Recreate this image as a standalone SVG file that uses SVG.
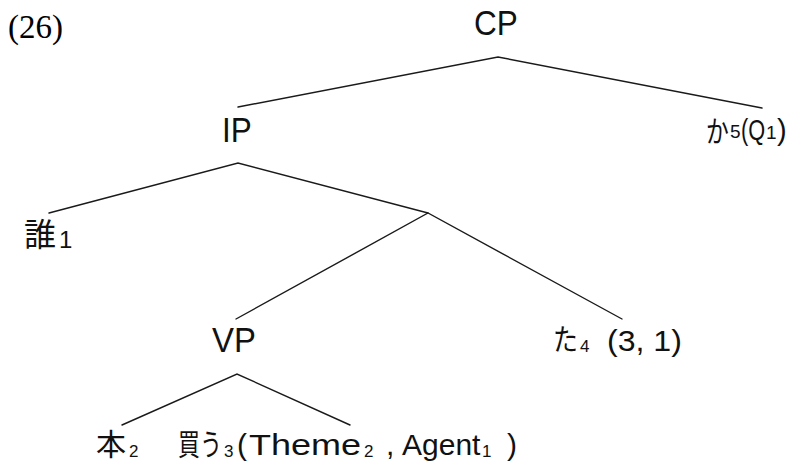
<svg xmlns="http://www.w3.org/2000/svg" width="809" height="464" viewBox="0 0 809 464">
  <style>
    .lat { font-family: "Liberation Sans", Arial, sans-serif; fill: #111; }
    .cjk { font-family: "Noto Sans CJK JP", "Noto Sans CJK SC", sans-serif; fill: #111; }
    .ser { font-family: "Liberation Serif", "Times New Roman", serif; fill: #000; }
    .lab { font-size: 35px; }
    .sub { font-size: 17px; }
    .edge { stroke: #1a1a1a; stroke-width: 1.4; fill: none; stroke-linecap: round; }
  </style>
  <rect width="809" height="464" fill="#fff"/>

  <text class="ser" x="8" y="38" font-size="33">(26)</text>

  <g id="connectors">
    <polyline class="edge" points="238,107 498,57 762,108"/>
    <polyline class="edge" points="49,213 238,163 428,213"/>
    <polyline class="edge" points="236,319 428,213 622,319"/>
    <polyline class="edge" points="122,425 237,374 350,425"/>
  </g>

  <g id="node-cp">
    <text class="lat lab" transform="translate(474,35) scale(0.9,1)">CP</text>
  </g>

  <g id="node-ip">
    <text class="lat lab" transform="translate(222,142) scale(0.9,1)">IP</text>
  </g>

  <!-- question particle with its index and Q-operator -->
  <g id="node-ka">
    <text class="cjk" font-size="30" transform="translate(706,142) scale(0.76,1)">か</text>
    <text class="lat" x="730" y="138" font-size="19">5</text>
    <text class="lat" font-size="29" transform="translate(741,140) scale(0.75,1)">(Q</text>
    <text class="lat" x="766" y="139" font-size="19">1</text>
    <text class="lat" x="777" y="140" font-size="29">)</text>
  </g>

  <g id="node-dare">
    <text class="cjk" x="24" y="246" font-size="32">誰</text>
    <text class="lat" x="59" y="248" font-size="24">1</text>
  </g>

  <g id="node-vp">
    <text class="lat lab" transform="translate(212,352) scale(0.94,1)">VP</text>
  </g>

  <g id="node-ta">
    <text class="cjk" font-size="30" transform="translate(553,350) scale(0.83,1)">た</text>
    <text class="lat sub" x="580" y="352">4</text>
    <text class="lat" font-size="30" transform="translate(607,351) scale(1.07,1)">(3, 1)</text>
  </g>

  <g id="node-hon">
    <text class="cjk" x="96" y="455" font-size="30">本</text>
    <text class="lat sub" x="129" y="457">2</text>
  </g>

  <!-- verb with its argument structure -->
  <g id="node-kau">
    <text class="cjk" font-size="30" transform="translate(178,455) scale(0.73,1)">買う</text>
    <text class="lat sub" x="224" y="457">3</text>
    <text class="lat" x="237" y="455" font-size="30">(</text>
    <text class="lat" font-size="30" transform="translate(249,455) scale(1.2,1)">Theme</text>
    <text class="lat sub" x="364" y="457">2</text>
    <text class="lat" x="386" y="455" font-size="30">,</text>
    <text class="lat" x="402" y="455" font-size="30">Agent</text>
    <text class="lat sub" x="482" y="457">1</text>
    <text class="lat" x="507" y="455" font-size="30">)</text>
  </g>
</svg>
